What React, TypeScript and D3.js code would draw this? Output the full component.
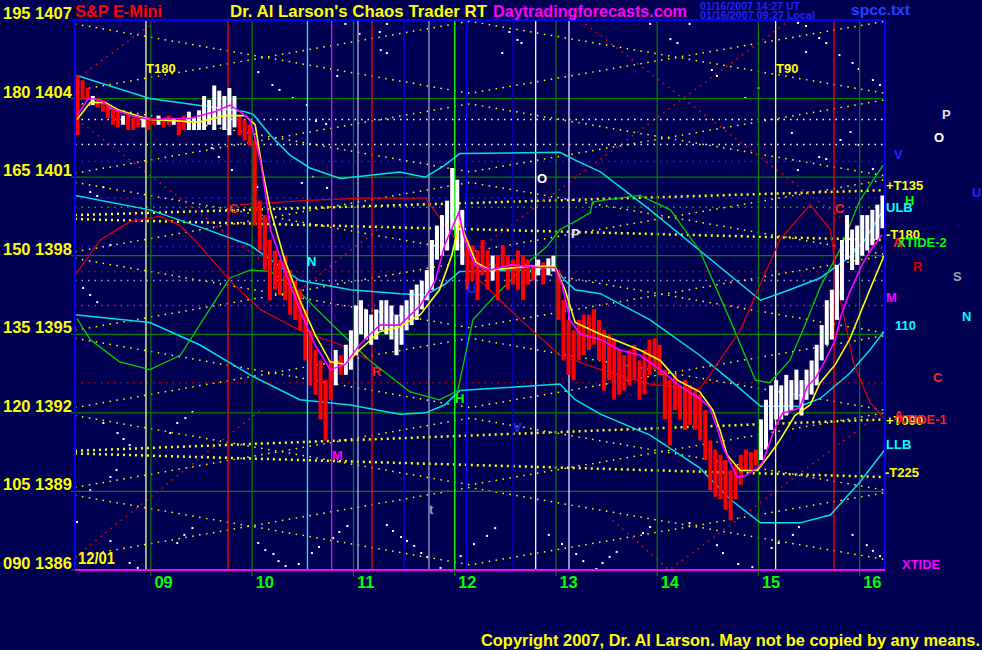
import React from "react";
import * as d3 from "d3";

// ---------- data ----------
const T0 = 8.25, T1 = 16.25;
const P0 = 1386, P1 = 1407;
const dayHours = [9, 10, 11, 12, 13, 14, 15, 16];
const priceTicks = [1407, 1404, 1401, 1398, 1395, 1392, 1389, 1386];

const barStart = 8.275, barStep = 0.05;
const barHigh = [
  1404.9, 1404.7, 1404.4, 1404.1, 1404.0, 1403.95, 1403.75, 1403.65, 1403.55, 1403.35,
  1403.35, 1403.25, 1403.25, 1403.25, 1403.3, 1403.25, 1403.35, 1403.25, 1403.35, 1403.25,
  1403.25, 1403.35, 1403.5, 1403.25, 1403.55, 1404.1, 1403.95, 1404.5, 1404.3, 1404.1,
  1404.4, 1404.1, 1403.35, 1403.2, 1403.0, 1402.4, 1400.1, 1399.55, 1398.6, 1398.2,
  1397.85, 1398.0, 1397.45, 1397.05, 1396.7, 1395.95, 1395.15, 1394.4, 1394.0, 1393.25,
  1394.0, 1394.4, 1394.2, 1394.6, 1395.15, 1396.1, 1396.3, 1395.95, 1395.75, 1395.95,
  1396.3, 1396.3, 1396.1, 1395.75, 1396.1, 1396.3, 1396.7, 1396.9, 1397.05, 1397.45,
  1398.6, 1399.15, 1399.55, 1400.1, 1401.35, 1400.9, 1399.75, 1398.6, 1398.4, 1398.2,
  1398.6, 1398.2, 1398.0, 1398.0, 1398.4, 1398.0, 1397.85, 1398.2, 1398.0, 1397.85,
  1397.65, 1397.85, 1397.75, 1397.9, 1398.0, 1397.45, 1396.3, 1395.55, 1395.15, 1395.55,
  1395.75, 1395.75, 1395.95, 1395.55, 1395.15, 1395.0, 1394.8, 1394.4, 1394.2, 1394.4,
  1394.6, 1394.0, 1394.4, 1394.8, 1394.85, 1394.6, 1393.65, 1393.25, 1393.45, 1393.05,
  1393.25, 1393.05, 1392.85, 1392.7, 1392.1, 1390.95, 1390.6, 1390.4, 1390.2, 1389.8,
  1390.0, 1390.4, 1390.6, 1390.5, 1390.6, 1391.75, 1392.5, 1393.05, 1393.25, 1393.05,
  1393.45, 1393.25, 1393.65, 1393.25, 1393.65, 1394.0, 1394.6, 1395.35, 1396.3, 1396.7,
  1397.65, 1398.6, 1399.55, 1399.0, 1399.15, 1399.55, 1399.55, 1399.75, 1399.95, 1400.3,
];
const barLow = [
  1402.6, 1403.95, 1403.95, 1403.75, 1403.65, 1403.5, 1403.25, 1403.0, 1402.9, 1403.0,
  1402.8, 1402.8, 1402.9, 1402.9, 1402.8, 1403.0, 1403.0, 1402.9, 1403.0, 1403.0,
  1402.6, 1402.8, 1402.8, 1402.8, 1402.8, 1402.8, 1403.0, 1402.8, 1403.0, 1402.8,
  1402.6, 1402.9, 1402.6, 1402.4, 1402.2, 1399.15, 1398.2, 1397.45, 1396.3, 1396.7,
  1396.5, 1396.3, 1395.75, 1395.55, 1395.15, 1394.0, 1393.05, 1392.7, 1391.75, 1390.95,
  1392.5, 1393.05, 1393.45, 1393.45, 1393.65, 1394.2, 1395.0, 1394.8, 1394.6, 1394.8,
  1395.15, 1395.0, 1394.8, 1394.2, 1394.6, 1395.15, 1395.35, 1395.55, 1395.95, 1396.3,
  1396.7, 1397.85, 1398.0, 1398.2, 1399.0, 1398.2, 1397.65, 1396.7, 1397.05, 1396.3,
  1397.25, 1396.7, 1397.05, 1396.3, 1397.45, 1396.7, 1396.9, 1396.7, 1396.3, 1396.9,
  1397.05, 1397.25, 1396.9, 1397.25, 1397.4, 1395.55, 1394.0, 1393.45, 1393.25, 1394.0,
  1394.2, 1394.4, 1394.6, 1394.0, 1392.85, 1393.25, 1392.5, 1392.7, 1392.85, 1393.05,
  1393.25, 1392.5, 1392.7, 1393.45, 1393.65, 1393.45, 1391.75, 1390.75, 1392.1, 1391.75,
  1391.35, 1391.55, 1391.35, 1390.95, 1390.2, 1389.05, 1388.8, 1388.7, 1388.3, 1387.9,
  1388.7, 1389.25, 1389.8, 1389.8, 1390.0, 1390.2, 1390.6, 1391.35, 1391.75, 1391.75,
  1391.9, 1392.1, 1392.5, 1391.9, 1392.5, 1392.7, 1393.05, 1394.0, 1394.6, 1394.8,
  1395.55, 1396.3, 1397.85, 1397.45, 1397.65, 1398.0, 1398.2, 1398.4, 1398.6, 1399.05,
];
const barColor =
  "rrrwrrrrrw rrrwrrwrrw rrwwwwwwww wwrrrrrrrr rrrrrrrrrr rwrwwwwwww wwwwwwwwww wwwwwwwrrr rrwrrrrrrr rwrwwrrrrr rrrrrrrrrr rrrrrrrrrr rrrrrrrrrr rrrrrwwwww wwwwwwwwww wwwwwwwwww".replace(/ /g, "");

const magentaMA = [
  [8.27, 1403.35], [8.38, 1404.0], [8.5, 1403.95], [8.6, 1403.65], [8.79, 1403.35], [8.99, 1403.2],
  [9.39, 1403.25], [9.63, 1403.5], [9.78, 1403.75], [9.88, 1403.5], [9.98, 1403.2], [10.08, 1401.65],
  [10.13, 1400.4], [10.18, 1399.0], [10.32, 1397.45], [10.47, 1395.95], [10.62, 1394.6], [10.77, 1393.65],
  [10.92, 1393.85], [11.06, 1394.6], [11.26, 1395.35], [11.46, 1395.35], [11.66, 1396.1], [11.81, 1397.05],
  [11.9, 1398.4], [12.04, 1399.65], [12.1, 1398.6], [12.2, 1397.65], [12.35, 1397.45], [12.55, 1397.65],
  [12.84, 1397.55], [12.99, 1397.55], [13.06, 1396.9], [13.14, 1395.55], [13.24, 1395.0], [13.44, 1394.8],
  [13.63, 1394.4], [13.83, 1394.2], [14.03, 1393.65], [14.23, 1393.0], [14.42, 1392.55], [14.52, 1392.2],
  [14.59, 1391.45], [14.65, 1390.7], [14.72, 1390.1], [14.79, 1389.55], [14.87, 1389.6], [14.99, 1389.9],
  [15.04, 1390.1], [15.11, 1390.85], [15.16, 1391.4], [15.24, 1392.0], [15.34, 1392.1], [15.41, 1392.2],
  [15.48, 1393.0], [15.56, 1393.3], [15.66, 1394.0], [15.76, 1394.8], [15.81, 1395.65], [15.9, 1396.6],
  [16.03, 1397.7], [16.13, 1398.35], [16.22, 1398.8],
];
const yellowMA = [
  [8.27, 1403.2], [8.4, 1403.85], [8.55, 1403.85], [8.69, 1403.55], [8.99, 1403.2], [9.48, 1403.1],
  [9.73, 1403.35], [9.93, 1403.35], [10.03, 1403.0], [10.1, 1401.3], [10.18, 1399.75], [10.32, 1397.85],
  [10.47, 1396.3], [10.62, 1395.0], [10.77, 1393.95], [10.92, 1393.85], [11.06, 1394.4], [11.26, 1395.1],
  [11.46, 1395.3], [11.66, 1395.75], [11.85, 1396.7], [11.97, 1398.0], [12.05, 1399.3], [12.12, 1398.6],
  [12.21, 1397.75], [12.35, 1397.45], [12.74, 1397.6], [12.99, 1397.6], [13.09, 1396.7], [13.19, 1395.45],
  [13.44, 1395.0], [13.83, 1394.4], [14.03, 1394.0], [14.2, 1393.25], [14.42, 1392.8], [14.55, 1392.1],
  [14.62, 1391.35], [14.69, 1390.4], [14.82, 1389.8], [14.99, 1389.8], [15.11, 1390.4], [15.21, 1390.95],
  [15.36, 1391.9], [15.51, 1392.3], [15.61, 1393.15], [15.76, 1393.85], [15.9, 1394.8], [16.1, 1396.7],
  [16.24, 1398.0],
];
const upperBand = [
  [8.25, 1404.9], [8.99, 1404.0], [9.93, 1403.5], [10.01, 1403.4], [10.18, 1402.6], [10.37, 1401.85],
  [10.57, 1401.35], [10.87, 1400.95], [11.46, 1401.2], [11.71, 1401.0], [11.9, 1401.45], [12.05, 1401.9],
  [13.04, 1401.95], [13.19, 1401.65], [13.44, 1401.2], [13.93, 1399.75], [14.42, 1398.2], [15.02, 1396.3],
  [15.31, 1396.7], [15.61, 1397.15], [15.9, 1397.95], [16.05, 1398.6], [16.25, 1399.85],
];
const middleBand = [
  [8.25, 1400.3], [8.99, 1399.75], [9.48, 1399.1], [9.98, 1398.4], [10.47, 1397.05], [10.97, 1396.7],
  [11.46, 1396.55], [11.71, 1396.5], [11.9, 1396.9], [12.05, 1397.4], [12.74, 1397.45], [12.99, 1397.55],
  [13.09, 1397.05], [13.19, 1396.7], [13.44, 1396.55], [13.93, 1395.55], [14.42, 1394.2], [14.72, 1393.25],
  [15.02, 1392.25], [15.41, 1392.25], [15.61, 1392.55], [15.9, 1393.5], [16.1, 1394.4], [16.25, 1395.15],
];
const lowerBand = [
  [8.25, 1395.75], [8.99, 1395.45], [9.48, 1394.6], [9.98, 1393.45], [10.47, 1392.5], [10.97, 1392.3],
  [11.46, 1391.95], [11.71, 1392.0], [11.9, 1392.3], [12.05, 1392.85], [13.04, 1393.1], [13.19, 1392.5],
  [13.44, 1391.95], [13.93, 1391.15], [14.42, 1389.9], [14.72, 1388.7], [15.02, 1387.8], [15.41, 1387.8],
  [15.71, 1388.1], [16.0, 1389.35], [16.25, 1390.6],
];
const greenLine = [
  [8.27, 1395.6], [8.4, 1394.8], [8.69, 1393.95], [8.99, 1393.65], [9.29, 1394.2], [9.58, 1395.95],
  [9.78, 1397.15], [9.98, 1397.45], [10.18, 1397.4], [10.47, 1396.6], [10.77, 1395.45], [11.16, 1394.0],
  [11.56, 1392.8], [11.85, 1392.5], [12.03, 1392.85], [12.18, 1395.55], [12.38, 1396.4], [12.55, 1397.05],
  [12.71, 1397.7], [12.91, 1398.35], [13.04, 1399.0], [13.21, 1399.35], [13.34, 1399.65], [13.36, 1400.05],
  [13.44, 1400.1], [13.83, 1400.3], [14.13, 1399.75], [14.42, 1398.2], [14.72, 1395.55], [14.97, 1393.25],
  [15.11, 1393.15], [15.31, 1394.0], [15.46, 1395.35], [15.61, 1396.8], [15.8, 1398.2], [16.0, 1400.1],
  [16.23, 1401.45],
];
const redLine1 = [
  [8.25, 1397.25], [8.5, 1398.6], [8.79, 1399.3], [9.09, 1399.5], [9.29, 1399.15], [9.48, 1398.4],
  [9.78, 1397.05], [10.08, 1395.95], [10.47, 1395.15], [10.87, 1394.6], [11.16, 1394.0],
];
const redLine2 = [
  [9.88, 1399.95], [10.5, 1400.1], [11.1, 1400.2], [11.71, 1400.2], [12.05, 1398.4], [12.25, 1397.05],
  [12.45, 1396.3], [12.65, 1395.55], [13.04, 1394.2], [13.44, 1393.65], [13.93, 1393.1], [14.42, 1392.9],
  [14.82, 1395.15], [15.21, 1398.6], [15.51, 1399.95], [15.71, 1399.0], [15.81, 1396.3], [15.94, 1393.9],
  [16.1, 1392.4], [16.25, 1391.75],
];

// time-cycle lattice (yellow dotted)
const cycleLines = [
  [[8.25, 1406.85], [12.15, 1404.2], [16.25, 1406.95]],
  [[8.25, 1404.3], [12.15, 1406.95], [16.25, 1404.2]],
  [[8.25, 1403.85], [12.15, 1401.2], [16.25, 1403.95]],
  [[8.25, 1401.15], [12.15, 1403.8], [16.25, 1401.05]],
  [[8.25, 1400.8], [12.15, 1398.15], [16.25, 1400.9]],
  [[8.25, 1398.15], [12.15, 1400.8], [16.25, 1398.05]],
  [[8.25, 1397.9], [12.15, 1395.25], [16.25, 1398.0]],
  [[8.25, 1395.15], [12.15, 1397.8], [16.25, 1395.05]],
  [[8.25, 1394.85], [12.15, 1392.2], [16.25, 1394.95]],
  [[8.25, 1392.2], [12.15, 1394.85], [16.25, 1392.1]],
  [[8.25, 1391.9], [12.15, 1389.25], [16.25, 1392.0]],
  [[8.25, 1389.15], [12.15, 1391.8], [16.25, 1389.05]],
  [[8.25, 1388.85], [12.15, 1386.2], [16.25, 1388.95]],
  [[8.25, 1386.5], [12.15, 1389.15], [16.25, 1386.4]],
];
const tLines = [
  [[8.25, 1399.55], [16.25, 1400.5]],
  [[8.25, 1399.4], [16.25, 1398.6]],
  [[8.25, 1390.55], [16.25, 1391.75]],
  [[8.25, 1390.45], [16.25, 1389.55]],
];
const redCycleLines = [
  [[8.25, 1404.7], [9.06, 1407.0]],
  [[8.27, 1403.2], [10.47, 1396.7], [11.3, 1399.2]],
  [[8.3, 1386.65], [10.08, 1392.1]],
  [[13.24, 1407.0], [15.41, 1400.6], [16.25, 1398.2]],
  [[13.56, 1387.9], [14.12, 1386.0], [16.25, 1392.1]],
  [[12.25, 1398.3], [15.31, 1407.0]],
];
const levelLines = [
  { p: 1403.2, c: "#ffffff" }, { p: 1402.25, c: "#ffffff" }, { p: 1401.6, c: "#2020ff" },
  { p: 1400.2, c: "#2020ff" }, { p: 1399.85, c: "#00c000" }, { p: 1398.35, c: "#2020ff" },
  { p: 1397.4, c: "#c00000" }, { p: 1397.05, c: "#a0a0d0" }, { p: 1396.1, c: "#e000e0" },
  { p: 1393.15, c: "#c00000" },
];
const markerLines = [
  { t: 8.951, c: "#ffff90" }, { t: 9.761, c: "#ff0000" }, { t: 10.546, c: "#00ffff" },
  { t: 10.785, c: "#ff00ff" }, { t: 11.045, c: "#b0b0d0" }, { t: 11.183, c: "#ff0000" },
  { t: 11.499, c: "#0000ff" }, { t: 11.746, c: "#a0a0c0" }, { t: 12.0, c: "#00ff00" },
  { t: 12.118, c: "#0000ff" }, { t: 12.576, c: "#0000d0" }, { t: 12.8, c: "#ffffff" },
  { t: 13.129, c: "#e0e0ff" }, { t: 15.17, c: "#ffff60" }, { t: 15.746, c: "#ff0000" },
];
// scattered white "star" points [hour, price]
const starPoints = [
  [14.32, 1406.85], [14.13, 1406.27], [14.2, 1406.12], [15.39, 1406.89], [15.47, 1406.77], [15.6, 1406.31],
  [15.67, 1406.12], [15.8, 1405.66], [15.93, 1405.36], [15.99, 1405.13], [16.13, 1404.71], [16.2, 1404.52],
  [14.87, 1404.02], [15.0, 1404.4], [14.54, 1405.09], [14.59, 1404.86], [15.47, 1405.78], [15.33, 1402.69],
  [15.91, 1402.72], [15.81, 1402.42], [15.99, 1402.23], [15.6, 1401.77], [15.67, 1401.69], [15.39, 1401.27],
  [16.13, 1401.31], [10.92, 1406.85], [11.26, 1406.54], [11.33, 1406.85], [11.06, 1406.47], [12.54, 1406.54],
  [12.62, 1406.24], [12.66, 1406.12], [12.47, 1405.74], [11.27, 1405.85], [11.33, 1405.74], [13.93, 1406.85],
  [8.67, 1391.23], [8.73, 1391.0], [8.79, 1390.77], [8.53, 1391.61], [8.6, 1389.55], [8.66, 1389.82],
  [8.4, 1389.05], [9.19, 1391.23], [9.26, 1391.61], [9.34, 1391.8], [9.41, 1392.03], [9.26, 1387.03],
  [9.33, 1387.34], [9.41, 1387.6], [8.6, 1387.11], [8.87, 1386.08], [8.79, 1386.27], [8.27, 1387.83],
  [8.4, 1400.43], [8.47, 1400.28], [8.53, 1400.62], [8.6, 1398.41], [8.33, 1396.77], [8.4, 1396.5],
  [8.47, 1396.23], [10.06, 1387.03], [10.13, 1386.76], [10.21, 1386.61], [10.26, 1386.34], [10.33, 1386.15],
  [10.46, 1386.23], [10.59, 1386.65], [10.66, 1386.88], [10.8, 1387.22], [10.86, 1387.45], [10.94, 1387.68],
  [11.33, 1387.72], [11.39, 1387.49], [11.47, 1387.26], [11.53, 1387.11], [11.6, 1386.92], [11.67, 1386.65],
  [11.73, 1386.5], [11.86, 1386.08], [12.06, 1386.53], [12.19, 1386.99], [12.32, 1387.3], [12.4, 1387.6],
  [12.93, 1387.34], [13.06, 1386.99], [13.2, 1386.61], [13.27, 1386.34], [13.4, 1386.04], [13.46, 1386.27],
  [13.53, 1386.5], [13.6, 1386.69], [13.86, 1387.41], [13.93, 1387.64], [14.32, 1387.79], [14.59, 1386.95],
  [14.65, 1386.65], [14.8, 1386.23], [14.94, 1386.11], [15.13, 1386.84], [15.2, 1387.03], [15.34, 1387.34],
  [15.4, 1387.64], [15.93, 1387.34], [16.07, 1386.95], [16.13, 1386.73], [16.2, 1386.53], [10.06, 1405.01],
  [10.2, 1404.52], [10.27, 1404.33], [10.4, 1404.02], [10.54, 1403.75], [10.63, 1403.14], [10.73, 1403.03],
  [10.84, 1404.86], [10.74, 1400.59], [10.6, 1401.01], [9.6, 1402.11], [9.67, 1401.77], [9.8, 1401.27],
  [10.05, 1400.62], [10.49, 1400.78],
];

const chartLabels = [
  { t: "T180", x: 146, y: 73, c: "#ffff00" }, { t: "T90", x: 776, y: 73, c: "#ffff00" },
  { t: "C", x: 229, y: 213, c: "#ff2020" }, { t: "N", x: 307, y: 266, c: "#00ffff" },
  { t: "M", x: 332, y: 460, c: "#ff00ff" }, { t: "R", x: 372, y: 376, c: "#ff2020" },
  { t: "U", x: 467, y: 293, c: "#2020ff" }, { t: "H", x: 455, y: 403, c: "#00ff00" },
  { t: "V", x: 513, y: 432, c: "#2020ff" }, { t: "O", x: 537, y: 183, c: "#ffffff" },
  { t: "P", x: 571, y: 238, c: "#e0e0ff" }, { t: "t", x: 429, y: 514, c: "#a0a0a0" },
  { t: "C", x: 835, y: 213, c: "#ff2020" },
];
const sideLabels = [
  { t: "P", x: 942, y: 119, c: "#e0e0ff" }, { t: "O", x: 934, y: 142, c: "#ffffff" },
  { t: "V", x: 894, y: 159, c: "#2020ff" }, { t: "+T135", x: 886, y: 190, c: "#ffff00" },
  { t: "U", x: 972, y: 197, c: "#2020ff" }, { t: "H", x: 905, y: 205, c: "#00ff00" },
  { t: "ULB", x: 886, y: 212, c: "#00ffff" }, { t: "-T180", x: 886, y: 239, c: "#ffff00" },
  { t: "XTIDE-2", x: 897, y: 247, c: "#00ff00" }, { t: "A", x: 893, y: 247, c: "#ff2020" },
  { t: "R", x: 913, y: 271, c: "#d00000" }, { t: "S", x: 953, y: 281, c: "#a0a0a0" },
  { t: "M", x: 886, y: 302, c: "#ff00ff" }, { t: "N", x: 962, y: 321, c: "#00ffff" },
  { t: "110", x: 895, y: 330, c: "#00ffff" }, { t: "C", x: 933, y: 382, c: "#ff2020" },
  { t: "+T090", x: 886, y: 425, c: "#ffff00" }, { t: "XTIDE-1", x: 897, y: 424, c: "#ff2020" },
  { t: "A", x: 894, y: 420, c: "#ff2020" }, { t: "LLB", x: 886, y: 449, c: "#00ffff" },
  { t: "-T225", x: 885, y: 477, c: "#ffff00" }, { t: "XTIDE", x: 902, y: 569, c: "#ff00ff" },
];

const FONT = "'Liberation Sans', Arial, Helvetica, sans-serif";
const BG = "#000052";

export default function App() {
  const X0 = 75, X1 = 885, Y0 = 20, Y1 = 570;
  const x = d3.scaleLinear().domain([T0, T1]).range([X0, X1]);
  const y = d3.scaleLinear().domain([P0, P1]).range([Y1, Y0]);
  const line = d3.line<number[]>().x((d) => x(d[0])).y((d) => y(d[1]));

  const bars = barHigh.map((h, i) => ({
    t: barStart + i * barStep,
    h,
    l: barLow[i],
    c: barColor[i] === "r" ? "#ff0000" : "#ffffff",
  }));

  return (
    <svg width={982} height={650} style={{ position: "fixed", left: 0, top: 0, display: "block" }}
      fontFamily={FONT} fontWeight="bold">
      <defs>
        <clipPath id="plot"><rect x={X0} y={Y0} width={X1 - X0} height={Y1 - Y0} /></clipPath>
      </defs>
      <rect x={0} y={0} width={982} height={650} fill={BG} />

      <g clipPath="url(#plot)">
        {starPoints.map((s, i) => (
          <rect key={"st" + i} x={x(s[0]) - 1} y={y(s[1]) - 1} width={2} height={2} fill="#ffffff" />
        ))}
        {levelLines.map((l, i) => (
          <line key={"lv" + i} x1={X0} x2={X1} y1={y(l.p)} y2={y(l.p)} stroke={l.c}
            strokeWidth={1.5} strokeDasharray="1.5 5" />
        ))}
        {cycleLines.map((l, i) => (
          <path key={"cy" + i} d={line(l) || ""} fill="none" stroke="#ffff00" strokeWidth={1.5}
            strokeDasharray="1.5 5.5" />
        ))}
        {tLines.map((l, i) => (
          <path key={"tl" + i} d={line(l) || ""} fill="none" stroke="#ffff00" strokeWidth={2.5}
            strokeDasharray="2 4" />
        ))}
        {redCycleLines.map((l, i) => (
          <path key={"rc" + i} d={line(l) || ""} fill="none" stroke="#ff0000" strokeWidth={1.5}
            strokeDasharray="1.5 5" />
        ))}
        {priceTicks.filter((p) => p > P0 && p < P1).map((p) => (
          <line key={"g" + p} x1={X0} x2={X1} y1={y(p)} y2={y(p)} stroke="#008000" strokeWidth={1.2} />
        ))}
        {dayHours.map((h) => (
          <line key={"d" + h} x1={x(h)} x2={x(h)} y1={Y0} y2={Y1} stroke="#008000" strokeWidth={1.2} />
        ))}
        {markerLines.map((m, i) => (
          <line key={"m" + i} x1={x(m.t)} x2={x(m.t)} y1={Y0} y2={Y1} stroke={m.c} strokeWidth={1.3} />
        ))}
        {[upperBand, middleBand, lowerBand].map((b, i) => (
          <path key={"b" + i} d={line(b) || ""} fill="none" stroke="#00e0e0" strokeWidth={1.5} />
        ))}
        <path d={line(greenLine) || ""} fill="none" stroke="#00d000" strokeWidth={1.3} />
        <path d={line(redLine1) || ""} fill="none" stroke="#e00000" strokeWidth={1.2} />
        <path d={line(redLine2) || ""} fill="none" stroke="#e00000" strokeWidth={1.2} />
        {bars.map((b, i) => (
          <rect key={"bar" + i} x={x(b.t) - 2} width={4} y={y(b.h)} height={Math.max(1, y(b.l) - y(b.h))} fill={b.c} />
        ))}
        <path d={line(yellowMA) || ""} fill="none" stroke="#ffff00" strokeWidth={1.6} />
        <path d={line(magentaMA) || ""} fill="none" stroke="#ff00ff" strokeWidth={1.6} />
        {chartLabels.map((l, i) => (
          <text key={"cl" + i} x={l.x} y={l.y} fill={l.c} fontSize={13}>{l.t}</text>
        ))}
      </g>

      {priceTicks.filter((p) => p < P1).map((p) => (
        <line key={"tk" + p} x1={71} x2={X0} y1={y(p)} y2={y(p)} stroke="#008000" strokeWidth={1.2} />
      ))}
      {dayHours.map((h) => (
        <line key={"dt" + h} x1={x(h)} x2={x(h)} y1={Y1} y2={Y1 + 6} stroke="#008000" strokeWidth={1.2} />
      ))}
      <line x1={72} x2={X1 + 1} y1={Y0} y2={Y0} stroke="#0000ff" strokeWidth={2} />
      <line x1={X0} x2={X0} y1={Y0} y2={Y1} stroke="#0000ff" strokeWidth={2} />
      <line x1={X1} x2={X1} y1={Y0} y2={Y1 + 1} stroke="#0000ff" strokeWidth={2} />
      <line x1={X0} x2={X1} y1={Y1} y2={Y1} stroke="#ff00ff" strokeWidth={2} />

      {priceTicks.map((p) => (
        <text key={"yl" + p} x={3} y={Math.max(19, y(p) - 1)} fill="#ffff00" fontSize={16.5}>
          {String((p - P0) * 5 + 90).padStart(3, "0") + " " + p}
        </text>
      ))}
      {dayHours.map((h) => (
        <text key={"dl" + h} x={x(h) + 3.5} y={588} fill="#00ff00" fontSize={16.5}>
          {String(h).padStart(2, "0")}
        </text>
      ))}
      <text x={78} y={564} fill="#ffff00" fontSize={16} textLength={37} lengthAdjust="spacingAndGlyphs">12/01</text>

      <text x={75} y={17} fill="#ff0000" fontSize={16.5} textLength={87} lengthAdjust="spacingAndGlyphs">S&amp;P E-Mini</text>
      <text x={230} y={17} fill="#ffff00" fontSize={16.5} textLength={257} lengthAdjust="spacingAndGlyphs">Dr. Al Larson's Chaos Trader RT</text>
      <text x={493} y={17} fill="#ff00ff" fontSize={16.5} textLength={194} lengthAdjust="spacingAndGlyphs">Daytradingforecasts.com</text>
      <text x={700} y={10} fill="#2020ff" fontSize={10.5} textLength={100} lengthAdjust="spacingAndGlyphs">01/16/2007 14:27 UT</text>
      <text x={700} y={19} fill="#2020ff" fontSize={10.5} textLength={115} lengthAdjust="spacingAndGlyphs">01/16/2007 09:27 Local</text>
      <text x={851} y={15} fill="#2040ff" fontSize={15} textLength={59} lengthAdjust="spacingAndGlyphs">spcc.txt</text>
      <text x={481} y={646} fill="#ffff00" fontSize={16.5} textLength={499} lengthAdjust="spacingAndGlyphs">Copyright 2007, Dr. Al Larson. May not be copied by any means.</text>

      {sideLabels.map((l, i) => (
        <text key={"sl" + i} x={l.x} y={l.y} fill={l.c} fontSize={13}>{l.t}</text>
      ))}
    </svg>
  );
}
